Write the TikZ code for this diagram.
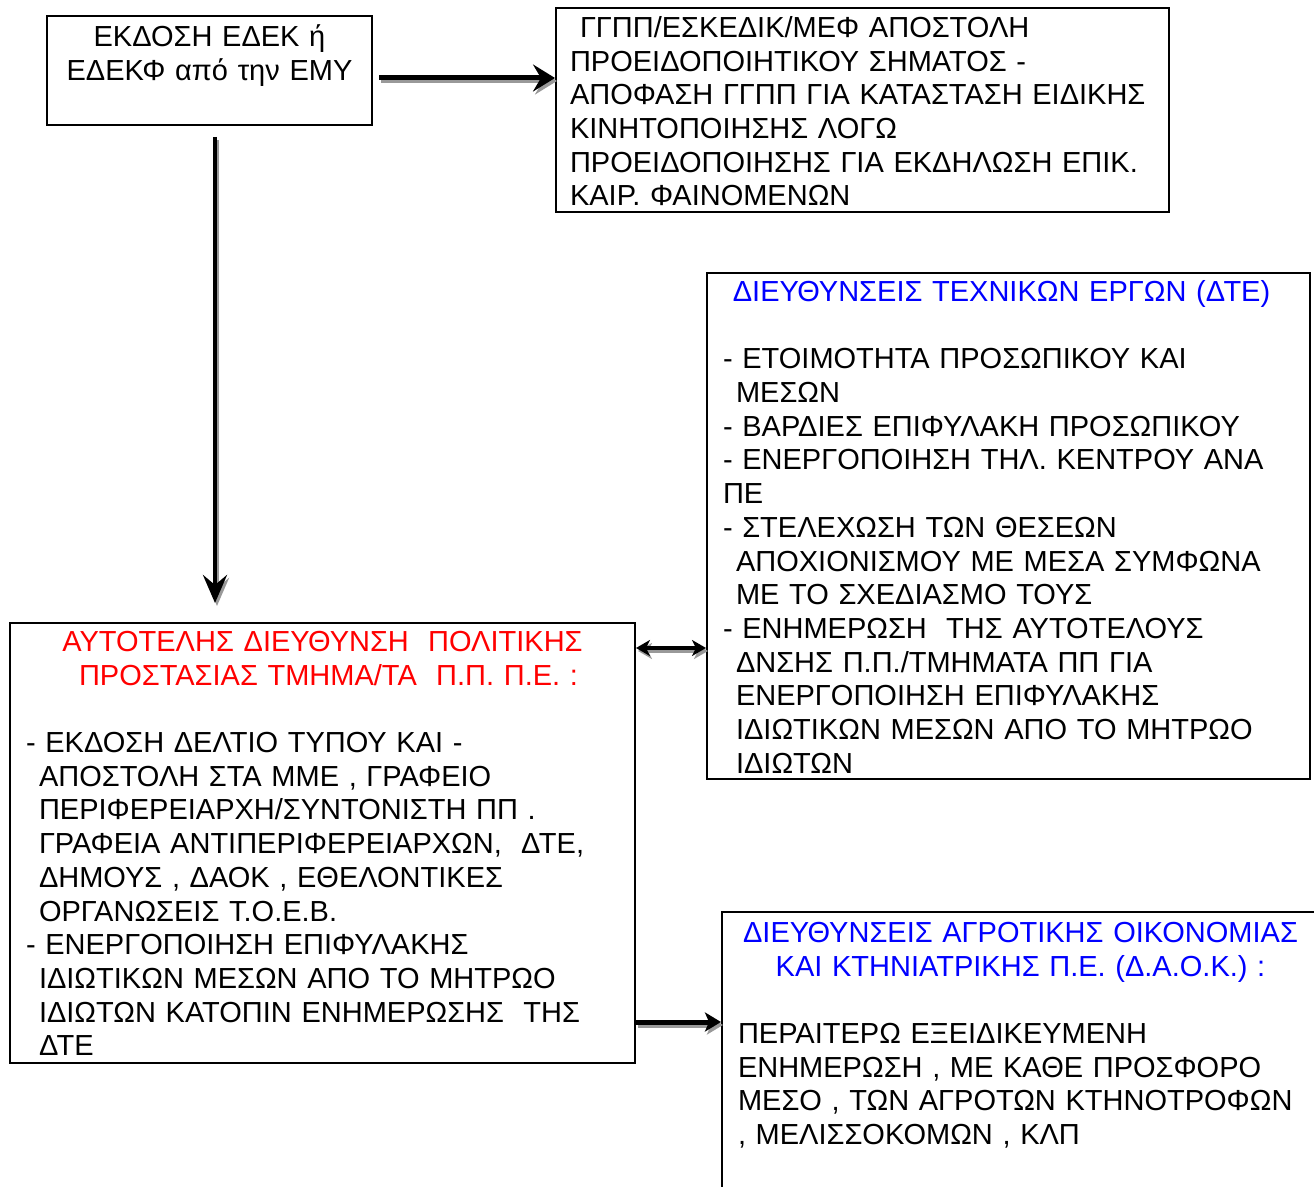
\documentclass[tikz,border=0pt]{standalone}
\usepackage{fontspec}
\setmainfont{Liberation Sans}
\usepackage{tikz}
\usetikzlibrary{arrows.meta, positioning}
\newcommand\boxfont{\fontsize{14.5}{16.85}\selectfont}
\newcommand\boxhead[1]{{\centering #1\par}\vspace{\baselineskip}}
\newcommand\indline{\hspace*{6.5pt}}

\begin{document}
\begin{tikzpicture}[x=0.5pt, y=-0.5pt,
    box/.style={draw, line width=1pt, anchor=north west, inner xsep=8pt, inner ysep=3pt, font=\boxfont, align=left},
    flow/.style={line width=2.5pt},
    shade/.style={draw=gray!80, transform canvas={shift={(2,3)}}}]
  \useasboundingbox (0,0) rectangle (1314,1187);
  \clip (0,0) rectangle (1314,1187);

  % boxes
  \node[box, align=center, inner xsep=4pt, text width=154.5pt, text height=12.25pt, text depth=36.25pt] (emy) at (46,15)
    {ΕΚΔΟΣΗ ΕΔΕΚ ή\\ΕΔΕΚΦ από την ΕΜΥ};
  \node[box, inner xsep=7pt, text width=292.5pt, text height=11.75pt, text depth=84.25pt] (ggpp) at (555,7)
    {\hspace*{5pt}ΓΓΠΠ/ΕΣΚΕΔΙΚ/ΜΕΦ ΑΠΟΣΤΟΛΗ\\
     ΠΡΟΕΙΔΟΠΟΙΗΤΙΚΟΥ ΣΗΜΑΤΟΣ -\\
     ΑΠΟΦΑΣΗ ΓΓΠΠ ΓΙΑ ΚΑΤΑΣΤΑΣΗ ΕΙΔΙΚΗΣ\\
     ΚΙΝΗΤΟΠΟΙΗΣΗΣ ΛΟΓΩ\\
     ΠΡΟΕΙΔΟΠΟΙΗΣΗΣ ΓΙΑ ΕΚΔΗΛΩΣΗ ΕΠΙΚ.\\
     ΚΑΙΡ. ΦΑΙΝΟΜΕΝΩΝ};
  \node[box, text width=285.5pt, text height=11.25pt, text depth=235.75pt] (dte) at (706,272)
    {\boxhead{\color{blue}ΔΙΕΥΘΥΝΣΕΙΣ ΤΕΧΝΙΚΩΝ ΕΡΓΩΝ (ΔΤΕ)\hspace*{7pt}}
     - ΕΤΟΙΜΟΤΗΤΑ ΠΡΟΣΩΠΙΚΟΥ ΚΑΙ\\
     \indline ΜΕΣΩΝ\\
     - ΒΑΡΔΙΕΣ ΕΠΙΦΥΛΑΚΗ ΠΡΟΣΩΠΙΚΟΥ\\
     - ΕΝΕΡΓΟΠΟΙΗΣΗ ΤΗΛ. ΚΕΝΤΡΟΥ ΑΝΑ\\
     ΠΕ\\
     - ΣΤΕΛΕΧΩΣΗ ΤΩΝ ΘΕΣΕΩΝ\\
     \indline ΑΠΟΧΙΟΝΙΣΜΟΥ ΜΕ ΜΕΣΑ ΣΥΜΦΩΝΑ\\
     \indline ΜΕ ΤΟ ΣΧΕΔΙΑΣΜΟ ΤΟΥΣ\\
     - ΕΝΗΜΕΡΩΣΗ~ ΤΗΣ ΑΥΤΟΤΕΛΟΥΣ\\
     \indline ΔΝΣΗΣ Π.Π./ΤΜΗΜΑΤΑ ΠΠ ΓΙΑ\\
     \indline ΕΝΕΡΓΟΠΟΙΗΣΗ ΕΠΙΦΥΛΑΚΗΣ\\
     \indline ΙΔΙΩΤΙΚΩΝ ΜΕΣΩΝ ΑΠΟ ΤΟ ΜΗΤΡΩΟ\\
     \indline ΙΔΙΩΤΩΝ};
  \node[box, text width=296.5pt, text height=11.25pt, text depth=202.75pt] (ddpp) at (9,622)
    {\boxhead{\color{red}ΑΥΤΟΤΕΛΗΣ ΔΙΕΥΘΥΝΣΗ~ ΠΟΛΙΤΙΚΗΣ\\ \hspace*{6pt}ΠΡΟΣΤΑΣΙΑΣ ΤΜΗΜΑ/ΤΑ~ Π.Π. Π.Ε. :}
     - ΕΚΔΟΣΗ ΔΕΛΤΙΟ ΤΥΠΟΥ ΚΑΙ -\\
     \indline ΑΠΟΣΤΟΛΗ ΣΤΑ ΜΜΕ , ΓΡΑΦΕΙΟ\\
     \indline ΠΕΡΙΦΕΡΕΙΑΡΧΗ/ΣΥΝΤΟΝΙΣΤΗ ΠΠ .\\
     \indline ΓΡΑΦΕΙΑ ΑΝΤΙΠΕΡΙΦΕΡΕΙΑΡΧΩΝ,~ ΔΤΕ,\\
     \indline ΔΗΜΟΥΣ , ΔΑΟΚ , ΕΘΕΛΟΝΤΙΚΕΣ\\
     \indline ΟΡΓΑΝΩΣΕΙΣ Τ.Ο.Ε.Β.\\
     - ΕΝΕΡΓΟΠΟΙΗΣΗ ΕΠΙΦΥΛΑΚΗΣ\\
     \indline ΙΔΙΩΤΙΚΩΝ ΜΕΣΩΝ ΑΠΟ ΤΟ ΜΗΤΡΩΟ\\
     \indline ΙΔΙΩΤΩΝ ΚΑΤΟΠΙΝ ΕΝΗΜΕΡΩΣΗΣ~ ΤΗΣ\\
     \indline ΔΤΕ};
  \node[box, text width=282.5pt, text height=12.25pt, text depth=126.25pt] (daok) at (721,911)
    {\boxhead{\color{blue}ΔΙΕΥΘΥΝΣΕΙΣ ΑΓΡΟΤΙΚΗΣ ΟΙΚΟΝΟΜΙΑΣ\\ ΚΑΙ ΚΤΗΝΙΑΤΡΙΚΗΣ Π.Ε. (Δ.Α.Ο.Κ.) :}
     ΠΕΡΑΙΤΕΡΩ ΕΞΕΙΔΙΚΕΥΜΕΝΗ\\
     ΕΝΗΜΕΡΩΣΗ , ΜΕ ΚΑΘΕ ΠΡΟΣΦΟΡΟ\\
     ΜΕΣΟ , ΤΩΝ ΑΓΡΟΤΩΝ ΚΤΗΝΟΤΡΟΦΩΝ\\
     , ΜΕΛΙΣΣΟΚΟΜΩΝ , ΚΛΠ};

  % connectors, each with its grey shadow first
  \draw[flow, shade, -{Stealth[length=11pt, width=13.5pt, inset=4pt]}, shorten <=3pt] ([yshift=-3.75pt]emy.east) -- ([yshift=-3.75pt]emy.east -| ggpp.west);
  \draw[flow, -{Stealth[length=11pt, width=13.5pt, inset=4pt]}, shorten <=3pt] ([yshift=-3.75pt]emy.east) -- ([yshift=-3.75pt]emy.east -| ggpp.west);
  \draw[flow, shade, line width=2.2pt, -{Stealth[length=14pt, width=12pt, inset=5pt]}, shorten <=5.5pt, shorten >=9.5pt] ([xshift=2.75pt]emy.south) -- ([xshift=2.75pt]emy.south |- ddpp.north);
  \draw[flow, line width=2.2pt, -{Stealth[length=14pt, width=12pt, inset=5pt]}, shorten <=5.5pt, shorten >=9.5pt] ([xshift=2.75pt]emy.south) -- ([xshift=2.75pt]emy.south |- ddpp.north);
  \draw[flow, shade, line width=2.2pt, {Stealth[length=7pt, width=8pt, inset=2pt]}-{Stealth[length=7pt, width=8pt, inset=2pt]}] ([yshift=-13pt]ddpp.north east) -- ([yshift=-13pt]ddpp.north east -| dte.west);
  \draw[flow, line width=2.2pt, {Stealth[length=7pt, width=8pt, inset=2pt]}-{Stealth[length=7pt, width=8pt, inset=2pt]}] ([yshift=-13pt]ddpp.north east) -- ([yshift=-13pt]ddpp.north east -| dte.west);
  \draw[flow, shade, -{Stealth[length=8pt, width=9.5pt, inset=2pt]}] ([yshift=21pt]ddpp.south east) -- ([yshift=21pt]ddpp.south east -| daok.west);
  \draw[flow, -{Stealth[length=8pt, width=9.5pt, inset=2pt]}] ([yshift=21pt]ddpp.south east) -- ([yshift=21pt]ddpp.south east -| daok.west);
\end{tikzpicture}
\end{document}
